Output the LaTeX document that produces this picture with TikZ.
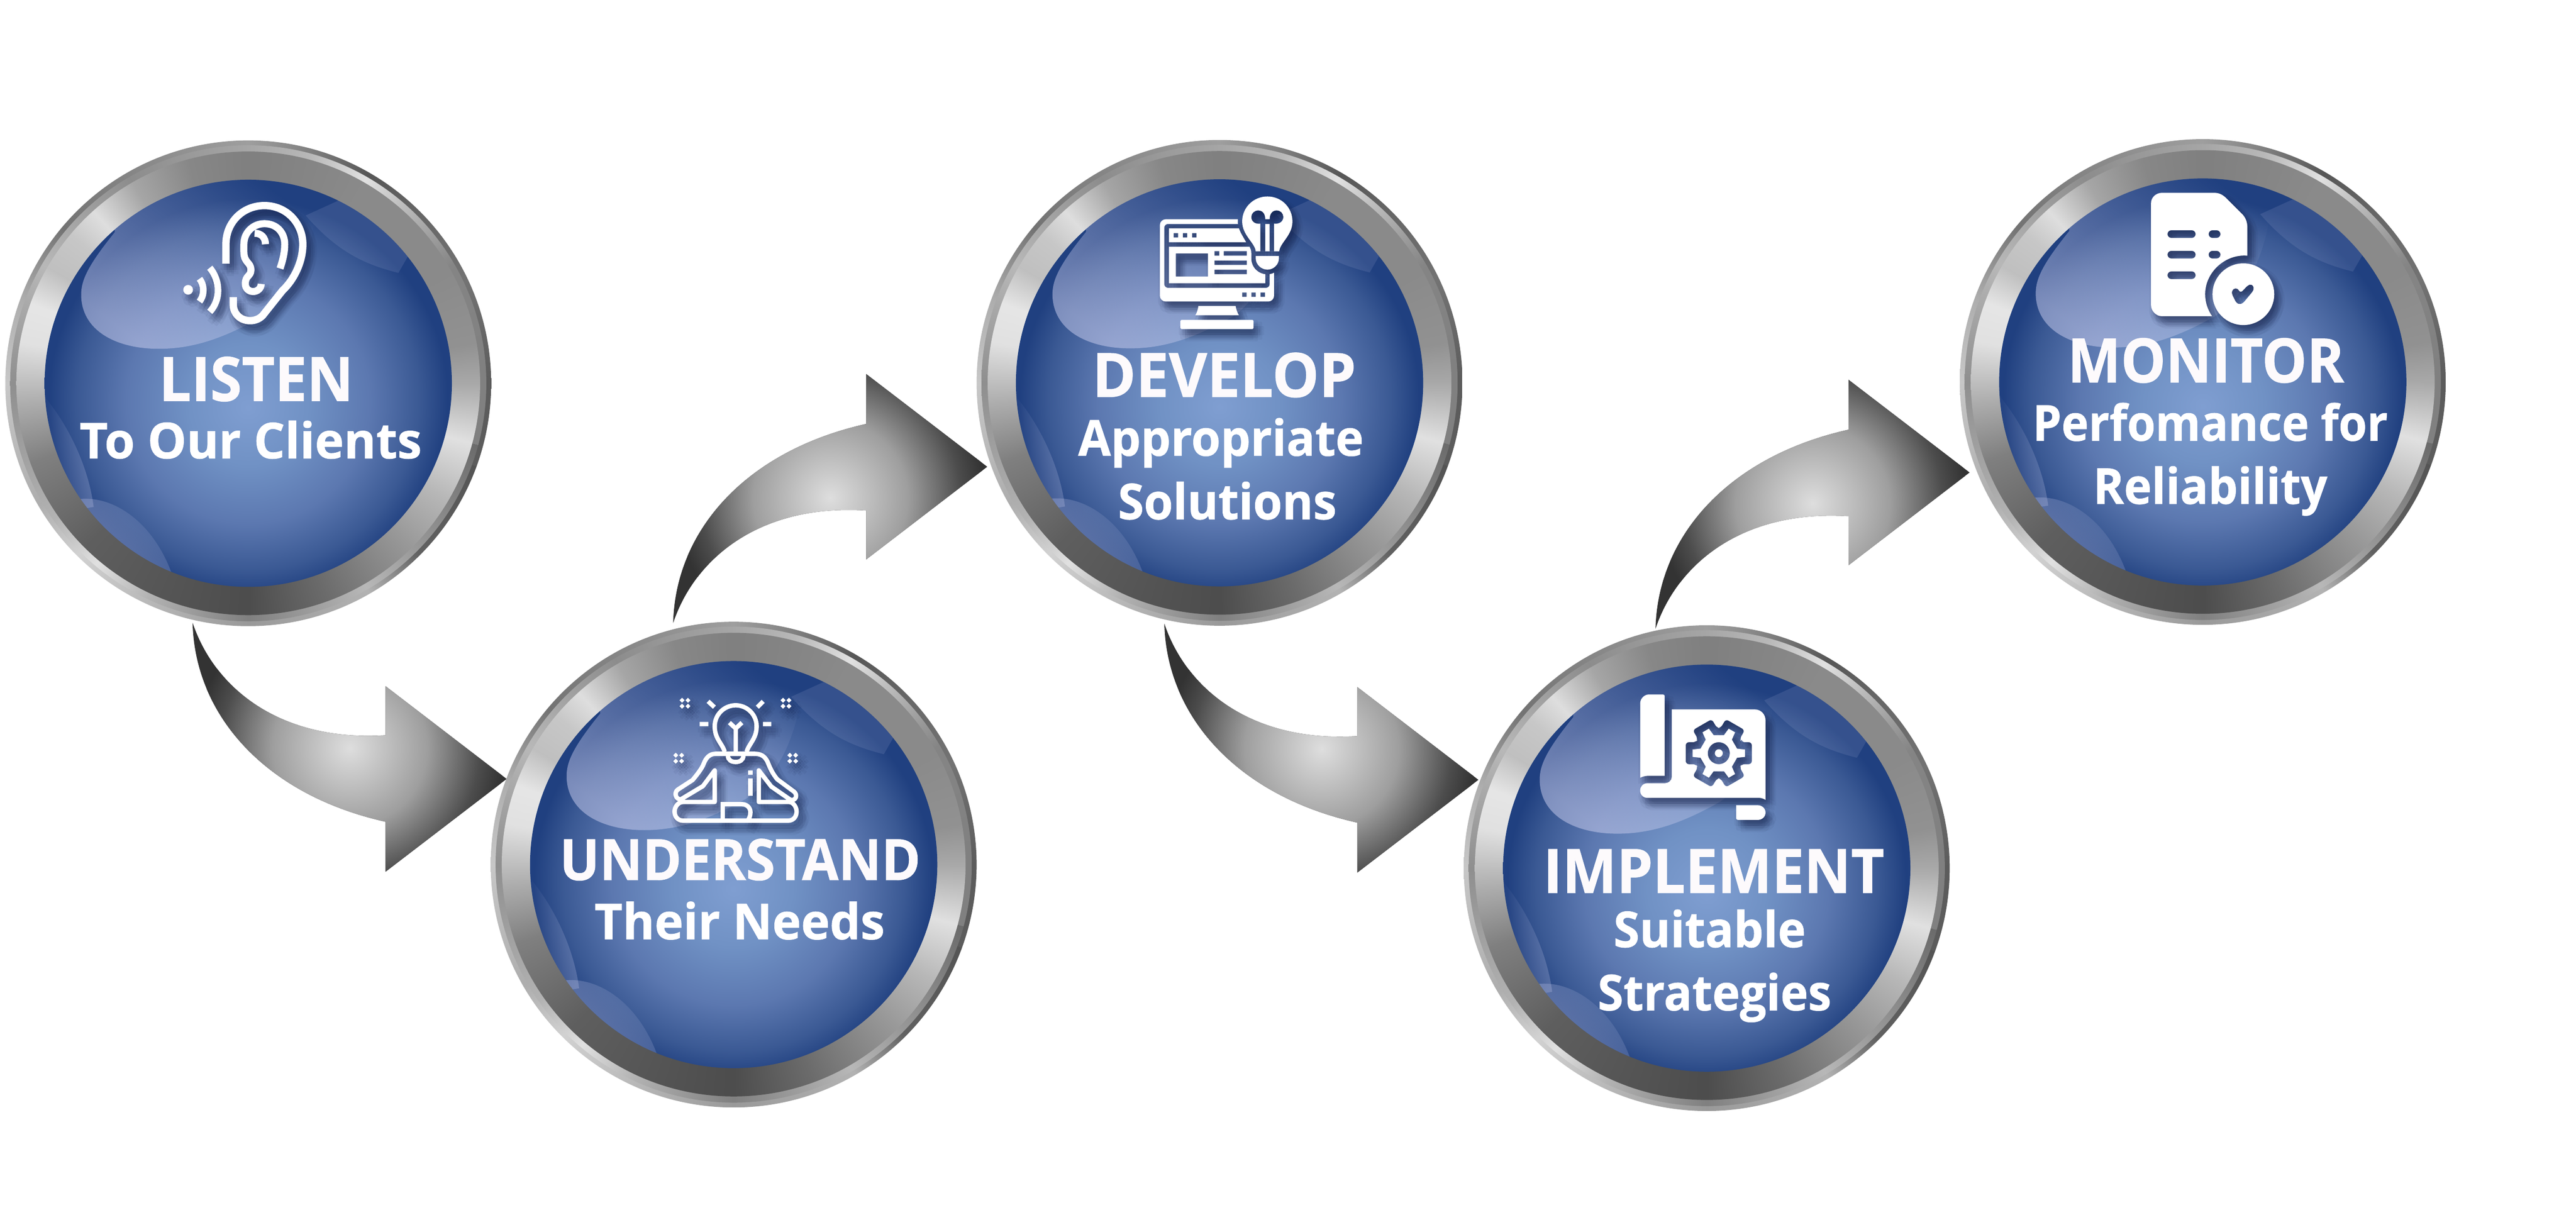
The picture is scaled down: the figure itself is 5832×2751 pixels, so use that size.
\documentclass[tikz,border=0pt]{standalone}
\usepackage{fontspec}
\usepackage{graphicx}
\setmainfont{Open Sans}[BoldFeatures={FakeBold=0.8}]
\usetikzlibrary{fadings}
\definecolor{shad}{RGB}{20,32,72}
\definecolor{lav}{RGB}{205,208,240}
\definecolor{headwhite}{RGB}{253,250,252}
\definecolor{darkmetal}{RGB}{51,51,51}
\def\Sg#1#2#3#4#5{dup #3 lt {#1 sub #4 #2 sub #3 #1 sub div mul #2 add}{#5} ifelse}
\pgfdeclarefunctionalshading{ringA}{\pgfpoint{-50bp}{-50bp}}{\pgfpoint{50bp}{50bp}}{}{exch atan
 \Sg{0}{.36}{25}{.45}{\Sg{25}{.45}{45}{.40}{\Sg{45}{.40}{60}{.34}{\Sg{60}{.34}{75}{.50}{\Sg{75}{.50}{90}{.62}{\Sg{90}{.62}{120}{.52}{\Sg{120}{.52}{140}{.45}{\Sg{140}{.45}{160}{.68}{%
 \Sg{160}{.68}{180}{.78}{\Sg{180}{.78}{210}{.68}{\Sg{210}{.68}{225}{.82}{\Sg{225}{.82}{240}{.75}{\Sg{240}{.75}{270}{.60}{\Sg{270}{.60}{300}{.70}{\Sg{300}{.70}{315}{.38}{\Sg{315}{.38}{340}{.33}{pop .36%
 }}}}}}}}%
 }}}}}}}} dup dup}
\pgfdeclarefunctionalshading{ringB}{\pgfpoint{-50bp}{-50bp}}{\pgfpoint{50bp}{50bp}}{}{exch atan
 \Sg{0}{.5}{30}{.52}{\Sg{30}{.52}{50}{.75}{\Sg{50}{.75}{60}{.88}{\Sg{60}{.88}{75}{.72}{\Sg{75}{.72}{90}{.65}{\Sg{90}{.65}{120}{.55}{\Sg{120}{.55}{150}{.72}{\Sg{150}{.72}{180}{.56}{%
 \Sg{180}{.56}{215}{.7}{\Sg{215}{.7}{230}{.88}{\Sg{230}{.88}{245}{.7}{\Sg{245}{.7}{270}{.5}{\Sg{270}{.5}{300}{.72}{\Sg{300}{.72}{315}{.6}{\Sg{315}{.6}{345}{.42}{pop .5%
 }}}}}}}%
 }}}}}}}} dup dup}
\pgfdeclarefunctionalshading{ringC}{\pgfpoint{-50bp}{-50bp}}{\pgfpoint{50bp}{50bp}}{}{exch atan
 \Sg{0}{.66}{10}{.57}{\Sg{10}{.57}{30}{.54}{\Sg{30}{.54}{60}{.54}{\Sg{60}{.54}{90}{.5}{\Sg{90}{.5}{105}{.53}{\Sg{105}{.53}{120}{.65}{\Sg{120}{.65}{132}{.87}{\Sg{132}{.87}{140}{.78}{\Sg{140}{.78}{150}{.75}{\Sg{150}{.75}{160}{.9}{%
 \Sg{160}{.9}{170}{.88}{\Sg{170}{.88}{185}{.68}{\Sg{185}{.68}{200}{.5}{\Sg{200}{.5}{225}{.37}{\Sg{225}{.37}{270}{.3}{\Sg{270}{.3}{290}{.42}{\Sg{290}{.42}{315}{.6}{\Sg{315}{.6}{330}{.72}{\Sg{330}{.72}{345}{.88}{\Sg{345}{.88}{360}{.66}{pop .66%
 }}}}}}}}}}%
 }}}}}}}}}} dup dup}
\pgfdeclareradialshading{glass}{\pgfpoint{0bp}{-3bp}}{rgb(0bp)=(.50,.62,.82);rgb(7.5bp)=(.44,.57,.77);rgb(15bp)=(.36,.47,.69);rgb(21bp)=(.23,.35,.58);rgb(24.5bp)=(.125,.25,.50);rgb(60bp)=(.125,.25,.50)}
\pgfdeclareradialshading{metal}{\pgfpoint{0bp}{0bp}}{rgb(0bp)=(.87,.87,.87);rgb(12.5bp)=(.62,.62,.62);rgb(21bp)=(.30,.30,.30);rgb(25bp)=(.2,.2,.2);rgb(50bp)=(.2,.2,.2)}
\tikzfading[name=lensfade,bottom color=transparent!50,top color=transparent!100]
\tikzfading[name=patchfade,bottom color=transparent!35,top color=transparent!100]
\def\Z{0.0948pt}
% ---------- soft text shadow held in a mask
\newcommand\shadowfade[5]{% name, x1, x2, size, text
 \pgfmathsetmacro\twcm{(#3-#2)*0.01}%
 \pgfdeclarefading{#1}{\pgfpicture
  \pgfpathrectangle{\pgfpoint{-6cm}{-2cm}}{\pgfpoint{12cm}{4cm}}\pgfusepath{use as bounding box}%
  \pgfsetfillopacity{.09}%
  \foreach \dx/\dy in {3/5,7/10,11/15,5/14,12/8,15/19,2/11,9/3,9/12,7/17,14/13,4/9,18/16,11/21}{%
   \pgftext[base,at={\pgfpoint{\dx*0.01cm}{-\dy*0.01cm}}]{\color{white}\resizebox{\twcm cm}{\height}{\fontsize{#4}{#4}\selectfont\bfseries #5}}}%
  \endpgfpicture}}
\AtBeginDocument{%
\shadowfade{shlisten}{360}{800}{39.4pt}{LISTEN}%
\shadowfade{shlistensub}{180}{955}{31.9pt}{To Our Clients}%
\shadowfade{shunderstand}{1267}{2084}{36.7pt}{UNDERSTAND}%
\shadowfade{shunderstandsub}{1346}{2003}{31.9pt}{Their Needs}%
\shadowfade{shdevelop}{2473}{3070}{39.4pt}{DEVELOP}%
\shadowfade{shdevelopsuba}{2441}{3087}{31.9pt}{Appropriate}%
\shadowfade{shdevelopsubb}{2531}{3026}{31.9pt}{Solutions}%
\shadowfade{shimplement}{3494}{4266}{39.4pt}{IMPLEMENT}%
\shadowfade{shimplementsuba}{3653}{4088}{31.9pt}{Suitable}%
\shadowfade{shimplementsubb}{3617}{4146}{31.9pt}{Strategies}%
\shadowfade{shmonitor}{4681}{5307}{39.4pt}{MONITOR}%
\shadowfade{shmonitorsuba}{4602}{5406}{31.9pt}{Perfomance for}%
\shadowfade{shmonitorsubb}{4739}{5269}{31.9pt}{Reliability}%
}
% ---------- arrows
\newcommand\fatarrow[2]{% tail coordinate, y sign
 \begin{scope}[shift={(#1)},yscale=#2]
 \begin{scope}
 \clip (0,0) .. controls (50,150) and (200,270) .. (437,255) -- (437,144) -- (711,354) -- (437,564) -- (437,451) .. controls (165,390) and (5,210) .. (0,0) -- cycle;
 \fill[darkmetal] (-5,-5) rectangle (720,570);
 \shade[shading=metal] (356,284) circle (350);
 \end{scope}
 \end{scope}}
% ---------- badge body
\newcommand\badge[1]{%
 \begin{scope}[shift={(#1)}]
 \shade[shading=ringA] (0,0) circle (550);
 \shade[shading=ringB] (0,0) circle (539);
 \shade[shading=ringC] (0,0) circle (525);
 \shade[shading=glass] (0,0) circle (461);
 \begin{scope}
 \clip (0,0) circle (461);
 \fill[lav,path fading=lensfade,fading angle=-45] (-302,-342) .. controls (-360,-270) and (-378,-235) .. (-378,-201) .. controls (-378,-120) and (-300,-78) .. (-202,-78) .. controls (-120,-78) and (-50,-105) .. (30,-150) .. controls (100,-200) and (160,-300) .. (160,-480) -- (-302,-480) -- cycle;
 \fill[lav,path fading=patchfade,fading angle=-45] (-380,262) .. controls (-300,255) and (-210,320) .. (-170,440) -- (-400,500) -- cycle;
 \fill[lav,opacity=.12] (130,-380) .. controls (200,-300) and (260,-270) .. (340,-250) -- (380,-320) -- (240,-430) -- cycle;
 \fill[lav,path fading=patchfade,fading angle=90,opacity=.4] (-470,20) .. controls (-400,100) and (-360,200) .. (-350,280) -- (-470,300) -- cycle;
 \end{scope}
 \end{scope}}
% ---------- text with soft shadow
\newcommand\tline[7]{% name, x1, x2, baseline, size, colour, text
 \pgfmathsetmacro\tw{(#3-#2)*0.01}%
 \pgfmathsetmacro\tc{(#2+#3)/2}%
 \fill[shad,path fading=sh#1,fit fading=false] (\tc-600,#4-200) rectangle (\tc+600,#4+200);
 \node[name=#1,anchor=base,inner sep=0pt,text=#6] at (\tc,#4)
   {\resizebox{\tw cm}{\height}{\fontsize{#5}{#5}\selectfont\bfseries #7}};
}
% ---------- icons
\newcommand\placeicon[3]{%
 \foreach \dx/\dy in {10/14,17/14,3/14,10/21,10/7,15/19,15/9,5/19,5/9,24/14,20/24,10/28,0/24,-4/14,0/4,10/0,20/4}{%
  \begin{scope}[shift={(#1+\dx,#2+\dy)},x=0.0033333cm,y=-0.0033333cm,ink/.style={fill=shad,fill opacity=.055},inkl/.style={draw=shad,draw opacity=.055}]
  #3
  \end{scope}}%
 \begin{scope}[shift={(#1,#2)},x=0.0033333cm,y=-0.0033333cm,ink/.style={fill=white},inkl/.style={draw=white}]
 #3
 \end{scope}}
\newcommand\iconEar{%
 \draw[inkl,line width=50*\Z] (335,532) -- (335,400) .. controls (335,250) and (450,137) .. (597,137) .. controls (750,137) and (858,260) .. (858,400) .. controls (858,530) and (790,650) .. (720,715) -- (585,885) .. controls (560,910) and (530,920) .. (500,920) .. controls (430,920) and (385,870) .. (385,810) -- (385,760);
 \draw[inkl,line width=48*\Z] (703,565) .. controls (725,500) and (735,450) .. (735,400) .. controls (735,320) and (680,260) .. (597,260) .. controls (520,260) and (457,320) .. (457,400) -- (457,450) .. controls (457,530) and (505,520) .. (505,575) .. controls (505,620) and (467,610) .. (467,670) .. controls (467,700) and (490,722) .. (520,722) .. controls (550,722) and (575,700) .. (575,670);
 \draw[inkl,line width=48*\Z] (604,400) .. controls (604,355) and (575,325) .. (530,325);
 \draw[inkl,line width=45*\Z] (155,635) .. controls (190,680) and (190,745) .. (155,790);
 \draw[inkl,line width=45*\Z] (225,560) .. controls (300,650) and (300,780) .. (225,860);
 \fill[ink] (78,710) circle (33);}
\newcommand\spk[2]{
 \fill[ink] (#1-20,#2-37) -- (#1-3,#2-20) -- (#1-20,#2-3) -- (#1-37,#2-20) -- cycle
  (#1+20,#2-37) -- (#1+37,#2-20) -- (#1+20,#2-3) -- (#1+3,#2-20) -- cycle
  (#1-20,#2+3) -- (#1-3,#2+20) -- (#1-20,#2+37) -- (#1-37,#2+20) -- cycle
  (#1+20,#2+3) -- (#1+37,#2+20) -- (#1+20,#2+37) -- (#1+3,#2+20) -- cycle;}
\newcommand\iconMed{%
 \draw[inkl,line width=30*\Z] (573,548) .. controls (555,490) and (505,460) .. (505,375) .. controls (505,295) and (570,232) .. (648,232) .. controls (725,232) and (790,295) .. (790,375) .. controls (790,460) and (740,490) .. (722,548);
 \draw[inkl,line width=30*\Z] (648,548) -- (648,390) -- (605,350) (648,390) -- (690,350);
 \draw[inkl,line width=30*\Z] (595,575) .. controls (595,605) and (620,618) .. (648,618) .. controls (675,618) and (700,605) .. (700,575);
 \draw[inkl,line width=30*\Z] (460,205) -- (503,245) (835,205) -- (795,245) (403,360) -- (462,360) (833,360) -- (890,360);
 \spk{303}{218}\spk{990}{218}\spk{260}{592}\spk{1036}{592}
 \draw[inkl,line width=30*\Z,line join=round] (355,740) -- (255,805) .. controls (225,825) and (240,875) .. (275,872) -- (425,782) -- (505,675) -- (505,890) -- (290,890) .. controls (255,890) and (232,925) .. (232,955) .. controls (232,990) and (255,1017) .. (290,1017) -- (1005,1017) .. controls (1040,1017) and (1062,990) .. (1062,955) .. controls (1062,925) and (1040,890) .. (1010,890) -- (805,890) -- (805,675) -- (890,785) -- (1020,875) .. controls (1060,885) and (1070,840) .. (1045,820) -- (930,735) .. controls (910,710) and (890,680) .. (870,630) .. controls (855,590) and (830,562) .. (780,562) -- (510,562) .. controls (470,562) and (445,590) .. (430,630) .. controls (420,660) and (380,710) .. (355,740) -- cycle;
 \draw[inkl,line width=30*\Z] (560,1017) -- (560,905) -- (690,905) .. controls (725,905) and (748,930) .. (748,960) .. controls (748,985) and (740,1000) .. (730,1017);
 \fill[ink] (732,675) rectangle (763,705) (732,730) rectangle (763,848);}
\newcommand\iconWeb{%
 \begin{scope}[even odd rule]
 \clip (100,0) rectangle (1300,1100) (758,100) -- (758,305) .. controls (758,360) and (790,400) .. (815,447) .. controls (835,470) and (850,490) .. (850,520) -- (850,555) .. controls (850,620) and (900,665) .. (960,665) .. controls (985,665) and (1005,655) .. (1010,650) -- (1200,650) -- (1200,100) -- cycle;
 \fill[ink,even odd rule] [rounded corners=3.8pt] (228,290) rectangle (1005,850) [rounded corners=2.4pt] (258,322) rectangle (975,757)
  [sharp corners] (788,788) rectangle (818,818) (850,788) rectangle (880,818) (913,788) rectangle (943,818);
 \fill[ink,even odd rule] (290,352) rectangle (945,447) (322,384) rectangle (352,414) (384,384) rectangle (414,414) (447,384) rectangle (477,414);
 \fill[ink,even odd rule] (290,477) rectangle (945,725) (337,523) rectangle (555,680) (600,507) rectangle (632,538) (663,507) rectangle (820,538) (600,571) rectangle (820,601) (600,633) rectangle (820,664);
 \end{scope}
 \fill[ink,even odd rule] (880,508) .. controls (875,450) and (788,400) .. (788,305) .. controls (788,210) and (865,135) .. (960,135) .. controls (1055,135) and (1130,210) .. (1130,305) .. controls (1130,400) and (1045,450) .. (1040,508) -- cycle
  (912,508) -- (912,320) .. controls (875,325) and (850,305) .. (850,275) .. controls (850,250) and (870,230) .. (897,230) .. controls (925,230) and (945,250) .. (945,290) -- (975,290) .. controls (975,250) and (995,230) .. (1022,230) .. controls (1050,230) and (1068,250) .. (1068,275) .. controls (1068,305) and (1040,325) .. (1005,320) -- (1005,508) -- (975,508) -- (975,322) -- (945,322) -- (945,508) -- cycle;
 \fill[ink] (880,540) -- (1038,540) -- (1038,555) .. controls (1038,600) and (1000,633) .. (960,633) .. controls (920,633) and (880,600) .. (880,555) -- cycle;
 \fill[ink] (490,880) -- (743,880) .. controls (748,905) and (755,925) .. (765,943) -- (470,943) .. controls (480,925) and (487,905) .. (490,880) -- cycle;
 \fill[ink,rounded corners=.8pt] (368,975) rectangle (865,1037);}
\newcommand\iconPlan{%
 \fill[ink] (190,695) -- (190,190) .. controls (190,155) and (220,128) .. (250,128) -- (345,128) .. controls (352,128) and (357,133) .. (357,140) -- (357,682) -- (245,682) .. controls (220,682) and (205,688) .. (190,695) -- cycle;
 \fill[ink,even odd rule] (405,230) -- (970,230) .. controls (1010,230) and (1043,262) .. (1043,305) -- (1043,845) .. controls (1030,838) and (1015,832) .. (1000,832) -- (240,832) .. controls (210,832) and (190,810) .. (190,782) .. controls (190,755) and (210,732) .. (240,732) -- (360,732) .. controls (385,732) and (405,712) .. (405,690) -- cycle
  [rounded corners=2pt] ([shift={(725,528)}]-26:172) \foreach \a in {0,60,...,300}{ -- ([shift={(725,528)}]\a-26:172) -- ([shift={(725,528)}]\a-18.4:237) -- ([shift={(725,528)}]\a+18.4:237) -- ([shift={(725,528)}]\a+26:172)} -- cycle
  [sharp corners] ([shift={(725,528)}]-14:128) \foreach \a in {0,60,...,300}{ -- ([shift={(725,528)}]\a-14:128) -- ([shift={(725,528)}]\a-8:180) -- ([shift={(725,528)}]\a+8:180) -- ([shift={(725,528)}]\a+14:128)} -- cycle
  (725,528) circle (75) (725,528) circle (27);
 \fill[ink] (843,882) -- (990,882) .. controls (1020,882) and (1043,905) .. (1043,932) .. controls (1043,960) and (1020,982) .. (990,982) -- (855,982) .. controls (848,982) and (843,977) .. (843,970) -- cycle;}
\newcommand\iconDoc{%
 \fill[ink,even odd rule] (210,180) .. controls (210,140) and (245,110) .. (285,110) -- (640,110) .. controls (680,110) and (705,130) .. (725,150) -- (835,260) .. controls (855,285) and (865,310) .. (865,345) -- (865,538) .. controls (715,525) and (578,650) .. (578,800) .. controls (578,855) and (595,905) .. (625,950) -- (285,950) .. controls (245,950) and (210,915) .. (210,875) -- cycle
  [rounded corners=2.4pt] (322,365) rectangle (513,417) (602,365) rectangle (682,417) (322,505) rectangle (513,557) (602,505) rectangle (682,557) (322,645) rectangle (513,697);
 \fill[ink,even odd rule] (838,800) circle (210)
  [rounded corners=1.6pt] (758,775) -- (785,755) -- (808,770) -- (818,792) -- (870,738) -- (895,730) -- (912,755) -- (905,778) -- (835,862) -- (812,870) -- (790,860) -- (760,800) -- cycle;}
\begin{document}
\begin{tikzpicture}[x=0.01cm,y=-0.01cm]
\useasboundingbox (0,0) rectangle (5832,2751);
\fill[white] (0,0) rectangle (5832,2751);
\coordinate (c1) at (562,868);
\coordinate (c2) at (1661,1958);
\coordinate (c3) at (2761,867);
\coordinate (c4) at (3864,1966);
\coordinate (c5) at (4987,865);
\coordinate (t1) at (436,1410);
\coordinate (t2) at (1524,1411);
\coordinate (t3) at (2636,1412);
\coordinate (t4) at (3748,1424);
\fatarrow{t1}{1}
\fatarrow{t2}{-1}
\fatarrow{t3}{1}
\fatarrow{t4}{-1}
\badge{c1}\badge{c2}\badge{c3}\badge{c4}\badge{c5}
\placeicon{400}{420}{\iconEar}
\placeicon{1450}{1520}{\iconMed}
\placeicon{2550}{400}{\iconWeb}
\placeicon{3650}{1530}{\iconPlan}
\placeicon{4800}{400}{\iconDoc}
\tline{listen}{360}{800}{908}{39.4pt}{headwhite}{LISTEN}
\tline{listensub}{180}{955}{1038}{31.9pt}{white}{To Our Clients}
\tline{understand}{1267}{2084}{1993}{36.7pt}{headwhite}{UNDERSTAND}
\tline{understandsub}{1346}{2003}{2127}{31.9pt}{white}{Their Needs}
\tline{develop}{2473}{3070}{899}{39.4pt}{headwhite}{DEVELOP}
\tline{developsuba}{2441}{3087}{1032}{31.9pt}{white}{Appropriate}
\tline{developsubb}{2531}{3026}{1176}{31.9pt}{white}{Solutions}
\tline{implement}{3494}{4266}{2022}{39.4pt}{headwhite}{IMPLEMENT}
\tline{implementsuba}{3653}{4088}{2145}{31.9pt}{white}{Suitable}
\tline{implementsubb}{3617}{4146}{2288}{31.9pt}{white}{Strategies}
\tline{monitor}{4681}{5307}{866}{39.4pt}{headwhite}{MONITOR}
\tline{monitorsuba}{4602}{5406}{998}{31.9pt}{white}{Perfomance for}
\tline{monitorsubb}{4739}{5269}{1141}{31.9pt}{white}{Reliability}
\end{tikzpicture}
\end{document}
